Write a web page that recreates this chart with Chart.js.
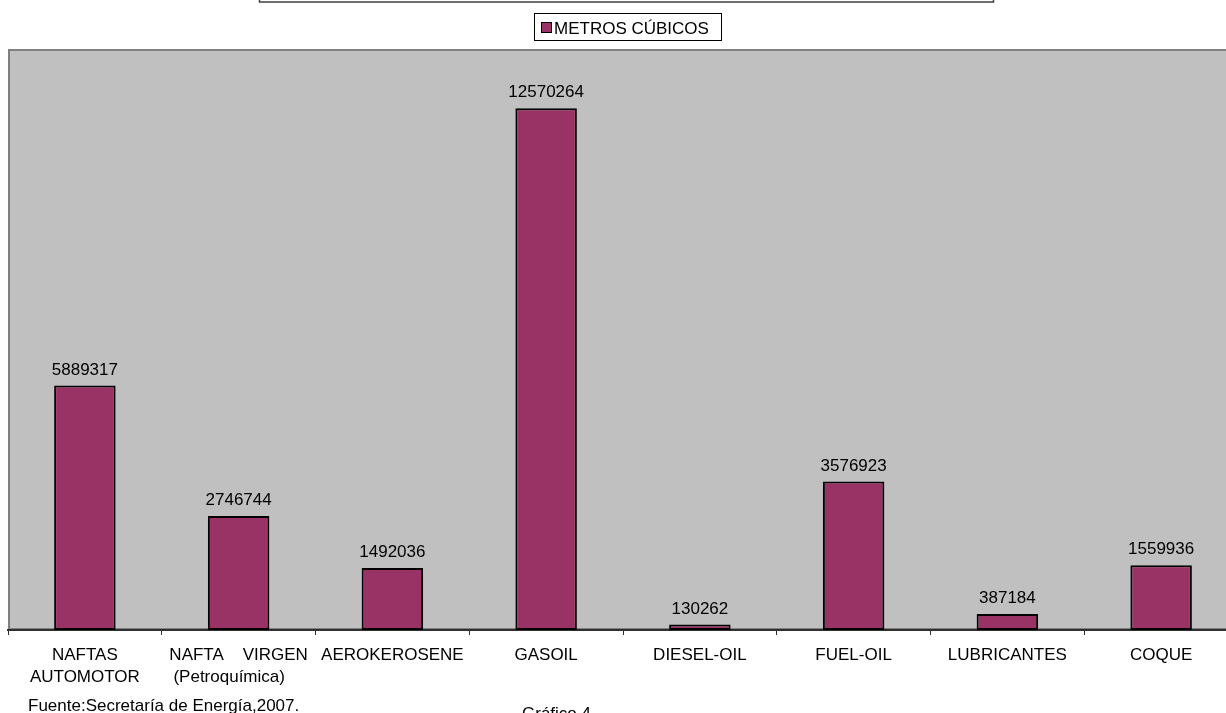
<!DOCTYPE html>
<html>
<head>
<meta charset="utf-8">
<script src="https://cdn.jsdelivr.net/npm/chart.js@4.4.1/dist/chart.umd.min.js"></script>
<style>
  html, body { margin: 0; padding: 0; background: #ffffff; overflow: hidden; }
  #wrap { position: absolute; left: 0; top: 0; width: 1250px; height: 713px; }
</style>
</head>
<body>
<div id="wrap"><canvas id="c"></canvas></div>
<script>
const categories = [
  ["NAFTAS", "AUTOMOTOR"],
  ["NAFTA\u00A0\u00A0\u00A0\u00A0VIRGEN", "(Petroquímica)\u00A0\u00A0\u00A0\u00A0"],
  "AEROKEROSENE",
  "GASOIL",
  "DIESEL-OIL",
  "FUEL-OIL",
  "LUBRICANTES",
  "COQUE"
];
const seriesLabel = "METROS CÚBICOS";
const values = [5889317, 2746744, 1492036, 12570264, 130262, 3576923, 387184, 1559936];
const sourceNote = "Fuente:Secretaría de Energía,2007.";
const chartCaption = "Gráfico 4";

const FONT = "Arial, 'Liberation Sans', sans-serif";

const decor = {
  id: 'decor',
  beforeDraw(chart) {
    const { ctx, chartArea: a } = chart;
    ctx.save();
    ctx.fillStyle = '#c0c0c0';
    ctx.fillRect(a.left, a.top, a.right - a.left, a.bottom - a.top);
    ctx.strokeStyle = '#808080';
    ctx.lineWidth = 2;
    ctx.strokeRect(a.left + 1, a.top + 1, a.right - a.left - 2, a.bottom - a.top - 2);
    ctx.restore();
  },
  afterDraw(chart) {
    const { ctx } = chart;
    ctx.save();
    // title box (cropped at top)
    ctx.strokeStyle = '#404040';
    ctx.lineWidth = 1.5;
    ctx.strokeRect(259.5, -30, 734, 32);
    // legend box
    ctx.strokeStyle = '#000000';
    ctx.lineWidth = 1;
    ctx.fillStyle = '#ffffff';
    ctx.fillRect(534.5, 13.5, 187, 27);
    ctx.strokeRect(534.5, 13.5, 187, 27);
    ctx.fillStyle = '#993366';
    ctx.fillRect(541, 22, 11, 11);
    ctx.strokeRect(541.5, 22.5, 10, 10);
    ctx.fillStyle = '#000000';
    ctx.font = '17px ' + FONT;
    ctx.textAlign = 'left';
    ctx.textBaseline = 'alphabetic';
    ctx.fillText(chart.data.datasets[0].label, 554, 34);
    // data labels
    const meta = chart.getDatasetMeta(0);
    ctx.textAlign = 'center';
    meta.data.forEach((bar, i) => {
      ctx.fillText(String(chart.data.datasets[0].data[i]), bar.x, bar.y - 11);
    });
    // footer
    ctx.textAlign = 'left';
    ctx.fillText(sourceNote, 28, 711);
    ctx.fillText(chartCaption, 522, 719);
    ctx.restore();
  }
};

new Chart(document.getElementById('c'), {
  type: 'bar',
  data: {
    labels: categories,
    datasets: [{
      label: seriesLabel,
      data: values,
      backgroundColor: '#993366',
      borderColor: '#000000',
      borderWidth: 2,
      borderSkipped: false,
      categoryPercentage: 1.0,
      barPercentage: 0.4
    }]
  },
  options: {
    responsive: true,
    maintainAspectRatio: false,
    animation: false,
    devicePixelRatio: 1,
    layout: { padding: { left: 8, right: 12, top: 49, bottom: 0 } },
    plugins: { legend: { display: false }, title: { display: false }, tooltip: { enabled: false } },
    scales: {
      x: {
        offset: true,
        grid: { display: true, offset: true, drawOnChartArea: false, drawTicks: true, tickLength: 5, color: '#303030', lineWidth: 1 },
        border: { display: true, color: '#303030', width: 2 },
        ticks: { color: '#000000', font: { family: FONT, size: 17, lineHeight: 1.25 }, padding: 10, maxRotation: 0, autoSkip: false },
        afterFit(scale) { scale.height = 83; }
      },
      y: {
        display: false,
        min: 0,
        max: 14000000
      }
    }
  },
  plugins: [decor]
});
</script>
</body>
</html>
